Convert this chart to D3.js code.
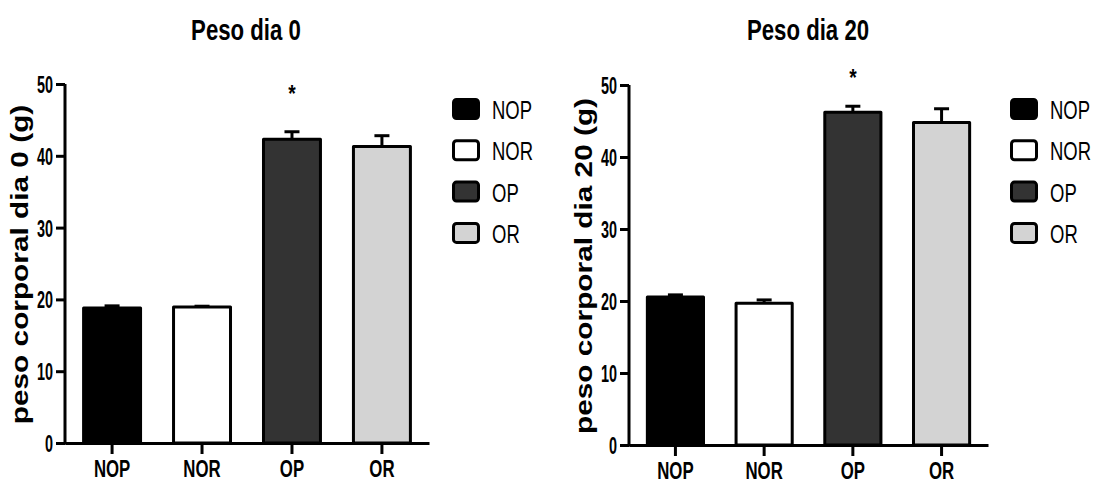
<!DOCTYPE html>
<html><head><meta charset="utf-8">
<script src="https://cdn.jsdelivr.net/npm/d3@7"></script>
<style>
html,body{margin:0;padding:0;background:#fff;}
svg text{font-family:"Liberation Sans",Arial,sans-serif;fill:#000;}
</style></head>
<body>
<svg id="c" width="1094" height="483"></svg>
<script>
const categories = ["NOP","NOR","OP","OR"];
const fills = ["#000000","#ffffff","#333333","#d3d3d3"];
const yTicks = [0,10,20,30,40,50];
const titles = ["Peso dia 0","Peso dia 20"];
const yLabels = ["peso corporal dia 0 (g)","peso corporal dia 20 (g)"];
const day0Mean = [18.8, 18.95, 42.3, 41.3];
const day0Sem  = [0.3, 0.1, 1.05, 1.5];
const day20Mean = [20.55, 19.7, 46.2, 44.8];
const day20Sem  = [0.3, 0.45, 0.85, 1.9];
const starGroup = ["OP","OP"];
const starLevel = [49.5, 51.8];

const svg = d3.select("#c");

const panels = [
  {mean: day0Mean, sem: day0Sem, x0:65, x1:429, yb:443, yt:84, title:titles[0], tx:246, ylab:yLabels[0], lx:28, star:starGroup[0], starV:starLevel[0], legX:452},
  {mean: day20Mean, sem: day20Sem, x0:629, x1:988, yb:445, yt:85, title:titles[1], tx:808, ylab:yLabels[1], lx:592, star:starGroup[1], starV:starLevel[1], legX:1010}
];

panels.forEach(p => {
  const g = svg.append("g");
  const x = d3.scaleBand().domain(categories).range([p.x0, p.x1]).paddingInner(1/3).paddingOuter(0.19);
  const y = d3.scaleLinear().domain([0,50]).range([p.yb, p.yt]);

  // error bars (upper only)
  const eb = g.append("g").attr("stroke","#000").attr("stroke-width",3).attr("fill","none");
  categories.forEach((c,i) => {
    const cx = x(c) + x.bandwidth()/2;
    eb.append("line").attr("x1",cx).attr("x2",cx).attr("y1",y(p.mean[i])).attr("y2",y(p.mean[i]+p.sem[i]));
    eb.append("line").attr("x1",cx-7.5).attr("x2",cx+7.5).attr("y1",y(p.mean[i]+p.sem[i])).attr("y2",y(p.mean[i]+p.sem[i]));
  });

  // bars
  g.selectAll("rect.bar").data(categories).join("rect")
    .attr("class","bar")
    .attr("x", d => x(d)+1.5)
    .attr("width", x.bandwidth()-3)
    .attr("y", (d,i) => y(p.mean[i]))
    .attr("height", (d,i) => y(0) - y(p.mean[i]))
    .attr("fill", (d,i) => fills[i])
    .attr("stroke","#000").attr("stroke-width",3).attr("stroke-linejoin","round");

  // y axis
  const ya = g.append("g").attr("transform",`translate(${p.x0},0)`)
    .call(d3.axisLeft(y).tickValues(yTicks).tickSize(9).tickSizeOuter(0).tickPadding(3));
  ya.selectAll("path,line").attr("stroke","#000").attr("stroke-width",3);
  ya.selectAll("text").remove();
  ya.selectAll(".tick").append("text")
    .attr("transform","translate(-12,8.5) scale(0.6,1)")
    .attr("text-anchor","end").attr("font-size",24).attr("font-weight","bold")
    .text(d => d);
  ya.select(".domain").attr("d", `M0,${p.yb+1.5}V${p.yt}`);

  // x axis
  const xa = g.append("g").attr("transform",`translate(0,${p.yb})`)
    .call(d3.axisBottom(x).tickSize(11).tickSizeOuter(0));
  xa.selectAll("path,line").attr("stroke","#000").attr("stroke-width",3);
  xa.selectAll("text").remove();
  xa.selectAll(".tick").append("text")
    .attr("transform",`translate(0,${477-p.yb+ (p.yb-443)}) scale(0.7,1)`)
    .attr("text-anchor","middle").attr("font-size",24).attr("font-weight","bold")
    .text(d => d);

  // title
  g.append("text").attr("transform",`translate(${p.tx},40) scale(0.74,1)`)
    .attr("text-anchor","middle").attr("font-size",30).attr("font-weight","bold").text(p.title);

  // y label
  g.append("text").attr("transform",`translate(${p.lx},${(p.yb+p.yt)/2+1}) rotate(-90) scale(1,0.78)`)
    .attr("text-anchor","middle").attr("font-size",29.8).attr("font-weight","bold").text(p.ylab);

  // star
  g.append("text").attr("transform",`translate(${x(p.star)+x.bandwidth()/2},${y(p.starV)+14}) scale(0.8,1)`)
    .attr("text-anchor","middle").attr("font-size",24).attr("font-weight","bold").text("*");

  // legend
  const leg = g.append("g").attr("transform",`translate(${p.legX},98)`);
  categories.forEach((c,i) => {
    const r = leg.append("g").attr("transform",`translate(0,${i*41.3})`);
    r.append("rect").attr("x",1.5).attr("y",1.5).attr("width",25).attr("height",19).attr("rx",3)
      .attr("fill",fills[i]).attr("stroke","#000").attr("stroke-width",3);
    r.append("text").attr("transform","translate(40,21) scale(0.74,1)")
      .attr("font-size",25).text(c);
  });
});
</script>
</body></html>
